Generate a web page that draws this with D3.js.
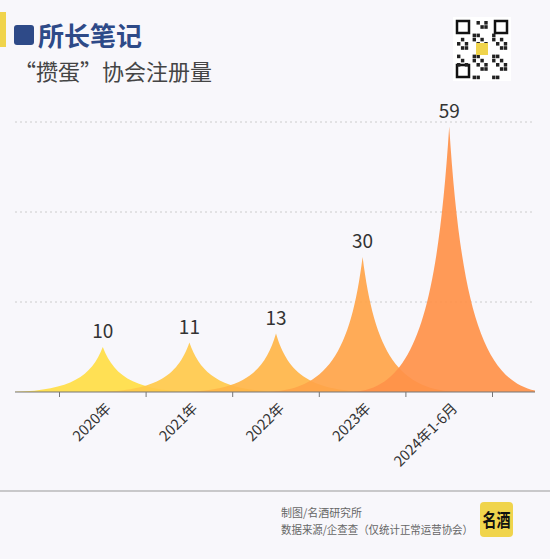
<!DOCTYPE html>
<html><head><meta charset="utf-8">
<script src="https://cdn.jsdelivr.net/npm/d3@7"></script>
<style>body{margin:0;background:#f8f7fb;font-family:"Noto Sans CJK SC","Noto Sans",sans-serif}</style>
</head><body><div id="chart"></div>
<script>
var categories = ["2020年", "2021年", "2022年", "2023年", "2024年1-6月"];
var values = [10, 11, 13, 30, 59];
var colors = ["#ffdd45", "#ffc94b", "#ffb548", "#ffa449", "#ff9149"];
var yTicks = [20, 40, 60];

var W = 550, H = 559, base = 392;
var svg = d3.select("#chart").append("svg").attr("width", W).attr("height", H)
svg.append("rect").attr("width", W).attr("height", H).attr("fill", "#f8f7fb")

// header
svg.append("rect").attr("x", 0).attr("y", 12).attr("width", 6).attr("height", 35).attr("fill", "#f0d44c")
svg.append("rect").attr("x", 14).attr("y", 25).attr("width", 20).attr("height", 20).attr("rx", 3).attr("fill", "#2e4a88")
svg.append("text").attr("x", 38).attr("y", 46).text("所长笔记")
  .attr("font-size", 26).attr("font-weight", "bold").attr("fill", "#2e4a88")
svg.append("text").attr("x", 14).attr("y", 80).text("“攒蛋”协会注册量")
  .attr("font-size", 22).attr("fill", "#444")

// qr placeholder
var qr = svg.append("g").attr("transform", "translate(453,17)")
qr.append("rect").attr("width", 58).attr("height", 64).attr("fill", "#fff")
var corners = [[4,4],[42,4],[4,48]]
corners.forEach(function(c){
  qr.append("rect").attr("x", c[0]).attr("y", c[1]).attr("width", 12).attr("height", 12).attr("fill", "none").attr("stroke", "#111").attr("stroke-width", 2.5)
})
for (var r = 0; r < 14; r++) for (var c = 0; c < 13; c++) {
  if ((r < 4 && (c < 4 || c > 9)) || (r > 10 && c < 4)) continue;
  if (((r * 7 + c * 13 + r * c) % 5) < 2) qr.append("rect").attr("x", 4 + c * 3.9).attr("y", 4 + r * 4.2).attr("width", 3.4).attr("height", 3.6).attr("fill", "#222")
}
qr.append("rect").attr("x", 23).attr("y", 26).attr("width", 12).attr("height", 12).attr("fill", "#f0d44c")

var x = d3.scaleBand().domain(categories).range([59.5, 492.5])
var y = d3.scaleLinear().domain([0, 60]).range([base, 122])

svg.selectAll(".grid").data(yTicks).enter().append("line")
  .attr("x1", 15).attr("x2", 535).attr("y1", d => y(d)).attr("y2", d => y(d))
  .attr("stroke", "#ccc").attr("stroke-dasharray", "2,3")

function spike(d, i) {
  var cx = x(categories[i]) + x.bandwidth() / 2, top = y(d), h = base - top;
  var w = 100;
  return "M" + (cx - w) + "," + base +
    " C" + (cx - w * 0.35) + "," + base + " " + (cx - w * 0.12) + "," + (base - h * 0.3) + " " + cx + "," + top +
    " C" + (cx + w * 0.12) + "," + (base - h * 0.3) + " " + (cx + w * 0.35) + "," + base + " " + (cx + w) + "," + base + "Z";
}

svg.append("clipPath").attr("id", "clip").append("rect").attr("x", 15).attr("y", 0).attr("width", 520).attr("height", base)
svg.append("g").attr("clip-path", "url(#clip)").selectAll("path").data(values).enter().append("path")
  .attr("d", spike).attr("fill", (d, i) => colors[i]).attr("opacity", 0.92)

svg.selectAll(".val").data(values).enter().append("text")
  .attr("x", (d, i) => x(categories[i]) + x.bandwidth() / 2)
  .attr("y", d => y(d) - 9).attr("text-anchor", "middle")
  .attr("font-size", 19).attr("fill", "#333").text(d => d)

svg.append("line").attr("x1", 15).attr("x2", 535).attr("y1", base).attr("y2", base).attr("stroke", "#777").attr("stroke-width", 1.2)
var bounds = categories.map(c => x(c)).concat([x.range()[1]])
svg.selectAll(".tk").data(bounds).enter().append("line")
  .attr("x1", d => d).attr("x2", d => d).attr("y1", base).attr("y2", base + 5).attr("stroke", "#777")

svg.selectAll(".lbl").data(categories).enter().append("text")
  .attr("transform", d => "translate(" + (x(d) + x.bandwidth() / 2 + 2) + "," + (base + 10) + ") rotate(-45)")
  .attr("text-anchor", "end").attr("dy", "0.7em").attr("font-size", 14.5).attr("fill", "#333").text(d => d)

// footer
svg.append("line").attr("x1", 0).attr("x2", W).attr("y1", 491).attr("y2", 491).attr("stroke", "#999")
svg.append("text").attr("x", 281).attr("y", 517).attr("font-size", 11).attr("fill", "#666").text("制图/名酒研究所")
  .attr("textLength", 81).attr("lengthAdjust", "spacingAndGlyphs")
svg.append("text").attr("x", 281).attr("y", 534).attr("font-size", 11).attr("fill", "#666").text("数据来源/企查查（仅统计正常运营协会）")
  .attr("textLength", 192).attr("lengthAdjust", "spacingAndGlyphs")
svg.append("rect").attr("x", 480).attr("y", 502).attr("width", 33).attr("height", 35).attr("rx", 4).attr("fill", "#f0d44c")
svg.append("text").attr("x", 496.5).attr("y", 527).attr("text-anchor", "middle").attr("font-size", 18).attr("font-weight", "bold").attr("fill", "#111").text("名酒")
  .attr("textLength", 28).attr("lengthAdjust", "spacingAndGlyphs")
</script></body></html>
